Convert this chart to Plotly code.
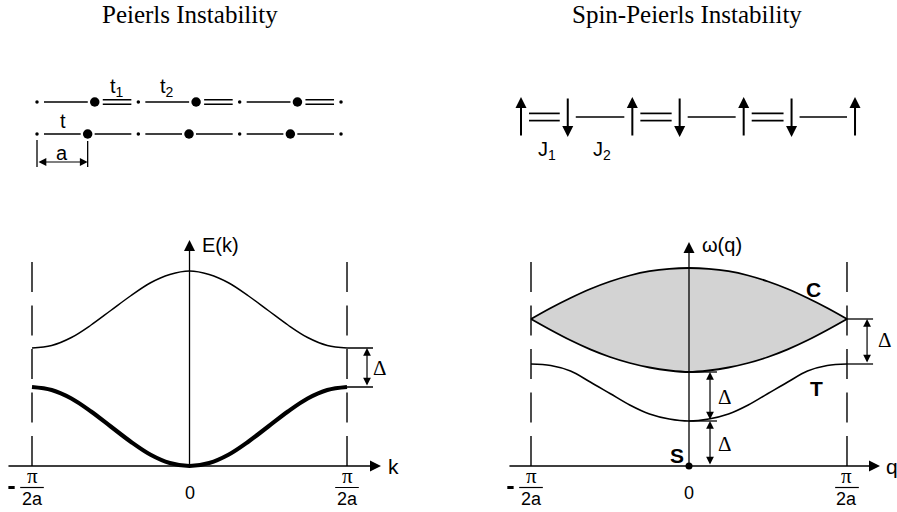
import plotly.graph_objects as go

# ======================= DATA =======================
TITLE_LEFT = "Peierls Instability"
TITLE_RIGHT = "Spin-Peierls Instability"

# momentum grid (units of pi/2a)
k_vals = [-1.0, -0.875, -0.75, -0.625, -0.5, -0.375, -0.25, -0.125, 0.0,
          0.125, 0.25, 0.375, 0.5, 0.625, 0.75, 0.875, 1.0]
# electronic bands E(k) (arbitrary units)
E_upper = [1.18, 1.205, 1.285, 1.41, 1.555, 1.70, 1.83, 1.915, 1.95,
           1.915, 1.83, 1.70, 1.555, 1.41, 1.285, 1.205, 1.18]
E_lower = [0.79, 0.76, 0.675, 0.545, 0.395, 0.245, 0.115, 0.03, 0.0,
           0.03, 0.115, 0.245, 0.395, 0.545, 0.675, 0.76, 0.79]

# magnetic excitations w(q)
q_vals = [-1.0, -0.875, -0.75, -0.625, -0.5, -0.375, -0.25, -0.125, 0.0,
          0.125, 0.25, 0.375, 0.5, 0.625, 0.75, 0.875, 1.0]
w_C_upper = [1.47, 1.58, 1.68, 1.77, 1.845, 1.905, 1.948, 1.972, 1.98,
             1.972, 1.948, 1.905, 1.845, 1.77, 1.68, 1.58, 1.47]
w_C_lower = [1.47, 1.36, 1.257, 1.166, 1.09, 1.03, 0.985, 0.955, 0.94,
             0.955, 0.985, 1.03, 1.09, 1.166, 1.257, 1.36, 1.47]
w_T = [1.02, 1.005, 0.95, 0.84, 0.725, 0.61, 0.52, 0.47, 0.45,
       0.47, 0.52, 0.61, 0.725, 0.84, 0.95, 1.005, 1.02]

zone_edges = [-1.0, 1.0]           # -pi/2a, +pi/2a
zero_tick = [0.0]
tick_num = "\u03c0"
tick_den = "2a"

# lattice chain (Peierls): site positions in units of a
sites_uniform = [0, 1, 2, 3, 4, 5, 6]
sites_dimer = [0, 1.14, 2, 3.14, 4, 5.14, 6]
site_is_big = [False, True, False, True, False, True, False]

# spin chain (spin-Peierls)
spin_pos = [0.0, 0.84, 2.0, 2.85, 4.0, 4.86, 6.0]
spin_dir = [1, -1, 1, -1, 1, -1, 1]

# ======================= STYLE / LAYOUT CONSTANTS =======================
SANS = "Liberation Sans, Arial, sans-serif"
SERIF = "Liberation Serif, Times New Roman, serif"
BLACK = "black"
LW = 1.5

Y_RANGE = [-0.46, 4.66]
X1_RANGE = [-1.2032, 1.6444]
X2_RANGE = [-1.5222, 1.3165]
X3_RANGE = [-0.7302, 8.1212]
Y3_RANGE = [-11.8125, 4.1875]
X4_RANGE = [-1.3023, 6.7541]
Y4_RANGE = [-19.75, 5.85]

DASH_TOP = 2.17
AXIS_TOP = 2.26
BAR_Y, DEN_Y, ZERO_Y = -0.215, -0.325, -0.27
PI_Y = -0.24

fig = go.Figure()
ann = []


def segs(pairs):
    xs, ys = [], []
    for x0, y0, x1, y1 in pairs:
        xs += [x0, x1, None]
        ys += [y0, y1, None]
    return xs, ys


def line_trace(xs, ys, xa, ya, width=LW, dash=None, shape="linear"):
    return go.Scatter(x=xs, y=ys, xaxis=xa, yaxis=ya, mode="lines",
                      line=dict(color=BLACK, width=width, dash=dash, shape=shape),
                      hoverinfo="skip", showlegend=False)


def text(x, y, s, xr, yr, size=19, font=SANS, xanchor="center", yanchor="middle"):
    ann.append(dict(x=x, y=y, xref=xr, yref=yr, text=s, showarrow=False,
                    xanchor=xanchor, yanchor=yanchor,
                    font=dict(family=font, size=size, color=BLACK)))


def arrow(x0, y0, x1, y1, xr, yr, width=1.3, size=1.6, both=False):
    ann.append(dict(x=x1, y=y1, ax=x0, ay=y0, xref=xr, yref=yr, axref=xr, ayref=yr,
                    text="", showarrow=True, arrowhead=2, startarrowhead=2,
                    arrowside="end+start" if both else "end",
                    arrowwidth=width, arrowsize=size, startarrowsize=size,
                    arrowcolor=BLACK, standoff=0, startstandoff=0,
                    font=dict(size=1)))


# ======================= LOWER PANELS =======================
for xa, ya in [("x", "y"), ("x2", "y2")]:
    # dashed zone-boundary lines (drawn upward from the axis)
    for xe in zone_edges:
        fig.add_trace(line_trace([xe, xe], [0, DASH_TOP], xa, ya, width=1.4, dash="30px,13.5px"))

# gray continuum (C)
fig.add_trace(go.Scatter(x=q_vals, y=w_C_upper, xaxis="x2", yaxis="y2", mode="lines",
                         line=dict(color=BLACK, width=1.8, shape="spline"),
                         hoverinfo="skip", showlegend=False))
fig.add_trace(go.Scatter(x=q_vals, y=w_C_lower, xaxis="x2", yaxis="y2", mode="lines",
                         line=dict(color=BLACK, width=1.8, shape="spline"),
                         fill="tonexty", fillcolor="#d3d3d3",
                         hoverinfo="skip", showlegend=False))
# triplet branch T
fig.add_trace(line_trace(q_vals, w_T, "x2", "y2", width=1.6, shape="spline"))

# electronic bands
fig.add_trace(line_trace(k_vals, E_upper, "x", "y", width=1.5, shape="spline"))
fig.add_trace(line_trace(k_vals, E_lower, "x", "y", width=4.2, shape="spline"))

# axes with arrows
arrow(-1.159, 0, 1.216, 0, "x", "y", size=1.7)
arrow(0, 0, 0, AXIS_TOP, "x", "y", size=1.7)
arrow(-1.146, 0, 1.209, 0, "x2", "y2", size=1.7)
arrow(0, 0, 0, AXIS_TOP - 0.02, "x2", "y2", size=1.7)
text(1.292, 0, "k", "x", "y", size=21)
text(0.067, 2.21, "E(k)", "x", "y", size=20, xanchor="left")
text(1.283, 0, "q", "x2", "y2", size=21)
text(0.07, 2.21, "\u03c9(q)", "x2", "y2", size=20, xanchor="left")

# tick labels: -pi/2a, 0, pi/2a
for xa, ya in [("x", "y"), ("x2", "y2")]:
    for xe in zone_edges:
        text(xe, PI_Y, tick_num, xa, ya, size=21, font=SERIF, yanchor="bottom")
        text(xe, DEN_Y, tick_den, xa, ya, size=18)
        fig.add_trace(line_trace([xe - 0.075, xe + 0.075], [BAR_Y, BAR_Y], xa, ya, width=1.2))
        if xe < 0:
            fig.add_trace(line_trace([xe - 0.15, xe - 0.11], [BAR_Y, BAR_Y], xa, ya, width=3))
    for z in zero_tick:
        text(z, ZERO_Y, "0", xa, ya, size=18)

# Peierls gap marker
gap_hi, gap_lo = E_upper[-1], E_lower[-1]
fig.add_trace(line_trace(*segs([(1.0, gap_hi, 1.165, gap_hi), (1.0, gap_lo, 1.165, gap_lo)]), "x", "y", width=1.3))
arrow(1.127, gap_lo, 1.127, gap_hi, "x", "y", width=1.2, size=1.3, both=True)
text(1.21, (gap_hi + gap_lo) / 2, "\u0394", "x", "y", size=21, font=SERIF)

# spin-Peierls gaps
c_edge, t_edge = w_C_upper[-1], w_T[-1]
fig.add_trace(line_trace(*segs([(1.0, c_edge, 1.165, c_edge), (1.0, t_edge, 1.165, t_edge)]), "x2", "y2", width=1.3))
arrow(1.127, t_edge, 1.127, c_edge, "x2", "y2", width=1.2, size=1.3, both=True)
text(1.238, (c_edge + t_edge) / 2 + 0.02, "\u0394", "x2", "y2", size=21, font=SERIF)

c_min, t_min = min(w_C_lower), min(w_T)
fig.add_trace(line_trace(*segs([(0.0, c_min, 0.177, c_min), (0.0, t_min, 0.177, t_min)]), "x2", "y2", width=1.3))
arrow(0.133, t_min, 0.133, c_min, "x2", "y2", width=1.2, size=1.3, both=True)
arrow(0.133, 0.0, 0.133, t_min, "x2", "y2", width=1.2, size=1.3, both=True)
text(0.225, (c_min + t_min) / 2, "\u0394", "x2", "y2", size=21, font=SERIF)
text(0.225, t_min / 2, "\u0394", "x2", "y2", size=21, font=SERIF)

# singlet ground state S
fig.add_trace(go.Scatter(x=[0], y=[0], xaxis="x2", yaxis="y2", mode="markers",
                         marker=dict(color=BLACK, size=7), hoverinfo="skip", showlegend=False))
text(-0.076, 0.11, "<b>S</b>", "x2", "y2", size=21)
text(0.785, 1.77, "<b>C</b>", "x2", "y2", size=21)
text(0.81, 0.78, "<b>T</b>", "x2", "y2", size=21)

# ======================= CHAINS =======================
# Peierls chain: uniform row (y=0) and dimerized row (y=1)
g = 0.138
pairs_u = [(sites_uniform[i] + g, 0, sites_uniform[i + 1] - g, 0) for i in range(len(sites_uniform) - 1)]
pairs_d = []
for i in range(len(sites_dimer) - 1):
    x0, x1 = sites_dimer[i] + g, sites_dimer[i + 1] - g
    if i % 2 == 0:
        pairs_d.append((x0, 1, x1, 1))
    else:
        pairs_d.append((x0 + 0.02, 1.07, x1, 1.07))
        pairs_d.append((x0 + 0.02, 0.93, x1, 0.93))
fig.add_trace(line_trace(*segs(pairs_u + pairs_d), "x3", "y3", width=1.5))

for row_y, sites in [(0, sites_uniform), (1, sites_dimer)]:
    big = [s for s, b in zip(sites, site_is_big) if b]
    small = [s for s, b in zip(sites, site_is_big) if not b]
    fig.add_trace(go.Scatter(x=big, y=[row_y] * len(big), xaxis="x3", yaxis="y3", mode="markers",
                             marker=dict(color=BLACK, size=9.5), hoverinfo="skip", showlegend=False))
    fig.add_trace(go.Scatter(x=small, y=[row_y] * len(small), xaxis="x3", yaxis="y3", mode="markers",
                             marker=dict(color=BLACK, size=3.5), hoverinfo="skip", showlegend=False))

text(1.58, 1.46, "t<sub>1</sub>", "x3", "y3", size=20)
text(2.57, 1.46, "t<sub>2</sub>", "x3", "y3", size=20)
text(0.51, 0.4, "t", "x3", "y3", size=20)
# lattice constant a
a0, a1 = sites_uniform[0], sites_uniform[1]
fig.add_trace(line_trace(*segs([(a0, -0.19, a0, -1.03), (a1, -0.22, a1, -1.03)]), "x3", "y3", width=1.3))
arrow(a0, -0.875, a1, -0.875, "x3", "y3", width=1.2, size=1.3, both=True)
text(0.49, -0.59, "a", "x3", "y3", size=20)

# spin chain
gs = 0.144
pairs_s = []
for i in range(len(spin_pos) - 1):
    x0, x1 = spin_pos[i] + gs, spin_pos[i + 1] - gs
    if i % 2 == 0:
        pairs_s.append((x0, 0.18, x1, 0.18))
        pairs_s.append((x0, -0.18, x1, -0.18))
    else:
        pairs_s.append((x0, 0, x1, 0))
fig.add_trace(line_trace(*segs(pairs_s), "x4", "y4", width=1.7))
for xp, d in zip(spin_pos, spin_dir):
    arrow(xp, -d * 1.0, xp, d * 1.0, "x4", "y4", width=2.0, size=1.1)
text(0.47, -1.65, "J<sub>1</sub>", "x4", "y4", size=20)
text(1.455, -1.65, "J<sub>2</sub>", "x4", "y4", size=20)

# titles
ann.append(dict(x=0.212, y=0.972, xref="paper", yref="paper", text=TITLE_LEFT, showarrow=False,
                xanchor="center", yanchor="middle", font=dict(family=SERIF, size=25, color=BLACK)))
ann.append(dict(x=0.766, y=0.972, xref="paper", yref="paper", text=TITLE_RIGHT, showarrow=False,
                xanchor="center", yanchor="middle", font=dict(family=SERIF, size=25, color=BLACK)))

ax_common = dict(visible=False, showgrid=False, zeroline=False, fixedrange=True)
fig.update_layout(
    width=897, height=512, margin=dict(l=0, r=0, t=0, b=0),
    paper_bgcolor="white", plot_bgcolor="rgba(0,0,0,0)", showlegend=False,
    xaxis=dict(domain=[0, 0.5], range=X1_RANGE, anchor="y", **ax_common),
    yaxis=dict(domain=[0, 1], range=Y_RANGE, anchor="x", **ax_common),
    xaxis2=dict(domain=[0.5, 1], range=X2_RANGE, anchor="y2", **ax_common),
    yaxis2=dict(domain=[0, 1], range=Y_RANGE, anchor="x2", **ax_common),
    xaxis3=dict(domain=[0, 0.5], range=X3_RANGE, anchor="y3", **ax_common),
    yaxis3=dict(domain=[0, 1], range=Y3_RANGE, anchor="x3", **ax_common),
    xaxis4=dict(domain=[0.5, 1], range=X4_RANGE, anchor="y4", **ax_common),
    yaxis4=dict(domain=[0, 1], range=Y4_RANGE, anchor="x4", **ax_common),
    annotations=ann,
)

fig.write_html("out.html")
